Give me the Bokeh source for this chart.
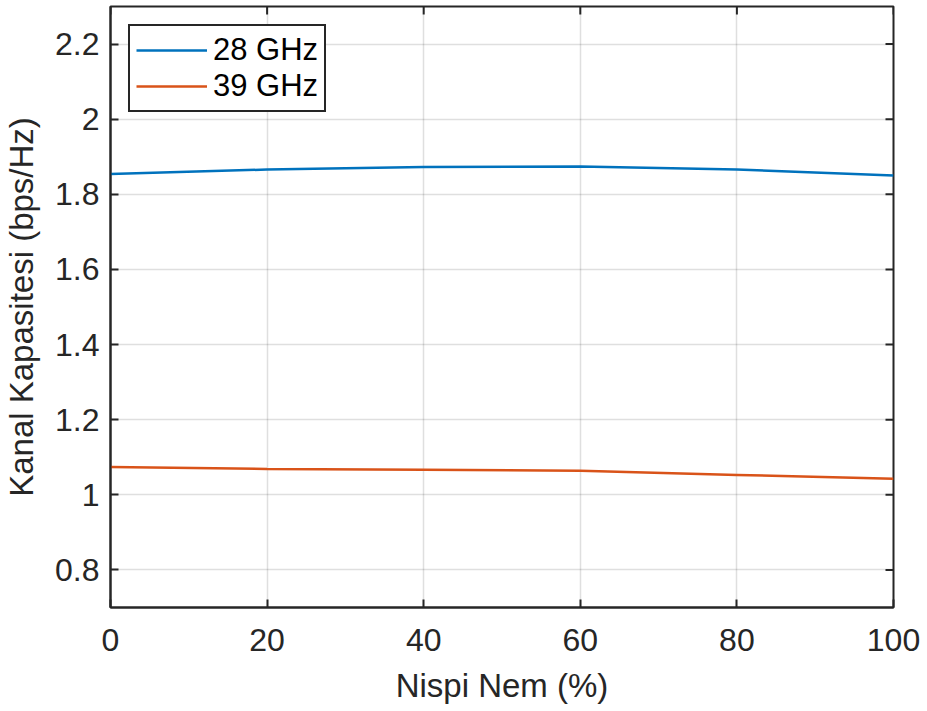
from bokeh.plotting import figure
from bokeh.models import FixedTicker, Range1d, Legend, LegendItem
from bokeh.embed import file_html
from bokeh.resources import INLINE
import math

humidity = [0, 20, 40, 60, 80, 100]
cap_28 = [1.854, 1.866, 1.873, 1.874, 1.866, 1.850]
cap_39 = [1.074, 1.069, 1.067, 1.064, 1.053, 1.043]
x_ticks = [0, 20, 40, 60, 80, 100]
y_ticks = [0.8, 1.0, 1.2, 1.4, 1.6, 1.8, 2.0, 2.2]
y_labels = ["0.8", "1", "1.2", "1.4", "1.6", "1.8", "2", "2.2"]
x_min, x_max = 0, 100
y_min, y_max = 0.7, 2.3

FONT = "Liberation Sans"
TXT = "#262626"
FS = "32px"

p = figure(width=927, height=711, output_backend="svg", toolbar_location=None,
           x_range=Range1d(x_min, x_max), y_range=Range1d(y_min, y_max),
           min_border_left=110, min_border_right=34, min_border_top=6, min_border_bottom=104)

p.outline_line_color = TXT
p.outline_line_width = 2
p.background_fill_color = "white"

l1 = p.line(humidity, cap_28, line_color="#0072BD", line_width=2.5)
l2 = p.line(humidity, cap_39, line_color="#D95319", line_width=2.5)

# box-on ticks on top and right edges (half of each dash is clipped by the frame)
p.scatter(x_ticks, [y_max] * len(x_ticks), marker="dash", angle=math.pi / 2, size=16,
          line_color=TXT, line_width=2)
p.scatter([x_max] * len(y_ticks), y_ticks, marker="dash", size=16,
          line_color=TXT, line_width=2)

for ax in (p.xaxis[0], p.yaxis[0]):
    ax.major_label_text_font = FONT
    ax.major_label_text_font_size = FS
    ax.major_label_text_color = TXT
    ax.axis_label_text_font = FONT
    ax.axis_label_text_font_size = "33px"
    ax.axis_label_text_color = TXT
    ax.axis_label_text_font_style = "normal"
    ax.axis_line_color = TXT
    ax.axis_line_width = 2
    ax.major_tick_line_color = TXT
    ax.major_tick_line_width = 2
    ax.major_tick_in = 8
    ax.major_tick_out = 0
    ax.minor_tick_line_color = None

p.xaxis[0].ticker = FixedTicker(ticks=x_ticks)
p.yaxis[0].ticker = FixedTicker(ticks=y_ticks)
p.yaxis[0].major_label_overrides = {t: s for t, s in zip(y_ticks, y_labels)}
p.xaxis[0].axis_label = "Nispi Nem (%)"
p.yaxis[0].axis_label = "Kanal Kapasitesi (bps/Hz)"
p.xaxis[0].major_label_standoff = 21
p.yaxis[0].major_label_standoff = 11
p.xaxis[0].axis_label_standoff = 13
p.yaxis[0].axis_label_standoff = 12

p.xgrid.ticker = FixedTicker(ticks=x_ticks)
p.ygrid.ticker = FixedTicker(ticks=y_ticks)
for g in (p.xgrid[0], p.ygrid[0]):
    g.grid_line_color = "#262626"
    g.grid_line_alpha = 0.15
    g.grid_line_width = 1.5

legend = Legend(items=[LegendItem(label="28 GHz", renderers=[l1]),
                       LegendItem(label="39 GHz", renderers=[l2])],
                location="top_left", margin=18,
                label_text_font=FONT, label_text_font_size="31px", label_text_color="black",
                border_line_color=TXT, border_line_width=2, border_line_alpha=1,
                glyph_width=71, glyph_height=30, label_height=30,
                spacing=0, padding=6, label_standoff=6,
                background_fill_color="white", background_fill_alpha=1)
p.add_layout(legend, "center")

open("out.html", "w").write(file_html(p, INLINE))
